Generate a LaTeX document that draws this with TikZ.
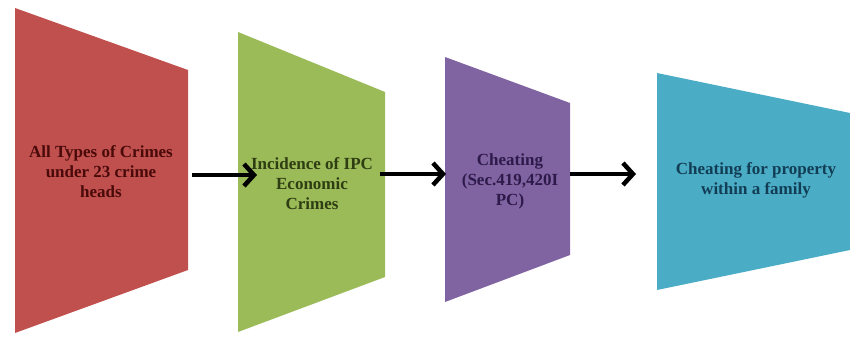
\documentclass[tikz,border=0pt]{standalone}
\usepackage{fontspec}
\setmainfont{Liberation Serif}
\usetikzlibrary{arrows.meta}
\definecolor{cRed}{HTML}{C0504D}
\definecolor{cGreen}{HTML}{9BBB59}
\definecolor{cPurple}{HTML}{8064A2}
\definecolor{cCyan}{HTML}{4BACC6}
\definecolor{tRed}{HTML}{4A0A0A}
\definecolor{tGreen}{HTML}{2E3D12}
\definecolor{tPurple}{HTML}{2E1A4A}
\definecolor{tCyan}{HTML}{123E55}
\tikzset{
  label text/.style={align=center, font=\fontsize{17}{20}\selectfont\bfseries, inner sep=0pt},
  flow arrow/.style={line width=4.5pt, -{Straight Barb[length=10pt,width=22pt,line width=4.5pt]}, black}
}
\begin{document}
\begin{tikzpicture}[x=1pt,y=-1pt]
\useasboundingbox (0,0) rectangle (850,337);
% shapes
\fill[cRed] (15,8) -- (188,70) -- (188,270) -- (15,333) -- cycle;
\fill[cGreen] (238,32) -- (385,92) -- (385,277) -- (238,332) -- cycle;
\fill[cPurple] (445,57) -- (570,103) -- (570,255) -- (445,302) -- cycle;
\fill[cCyan] (657,73) -- (850,113) -- (850,250) -- (657,290) -- cycle;
% texts
\node[label text, text=tRed] (t1) at (101,172) {All Types of Crimes\\under 23 crime\\heads};
\node[label text, text=tGreen] (t2) at (312,184) {Incidence of IPC\\Economic\\Crimes};
\node[label text, text=tPurple] (t3) at (510,181) {Cheating\\(Sec.419,420I\\PC)};
\node[label text, text=tCyan] (t4) at (756,180) {Cheating for property\\within a family};
% arrow endpoints
\coordinate (a1s) at (192,175);
\coordinate (a1e) at (257,175);
\coordinate (a2s) at (380,174);
\coordinate (a2e) at (446,174);
\coordinate (a3s) at (570,174);
\coordinate (a3e) at (636,174);
\draw[flow arrow] (a1s) -- (a1e);
\draw[flow arrow] (a2s) -- (a2e);
\draw[flow arrow] (a3s) -- (a3e);
\end{tikzpicture}
\end{document}
